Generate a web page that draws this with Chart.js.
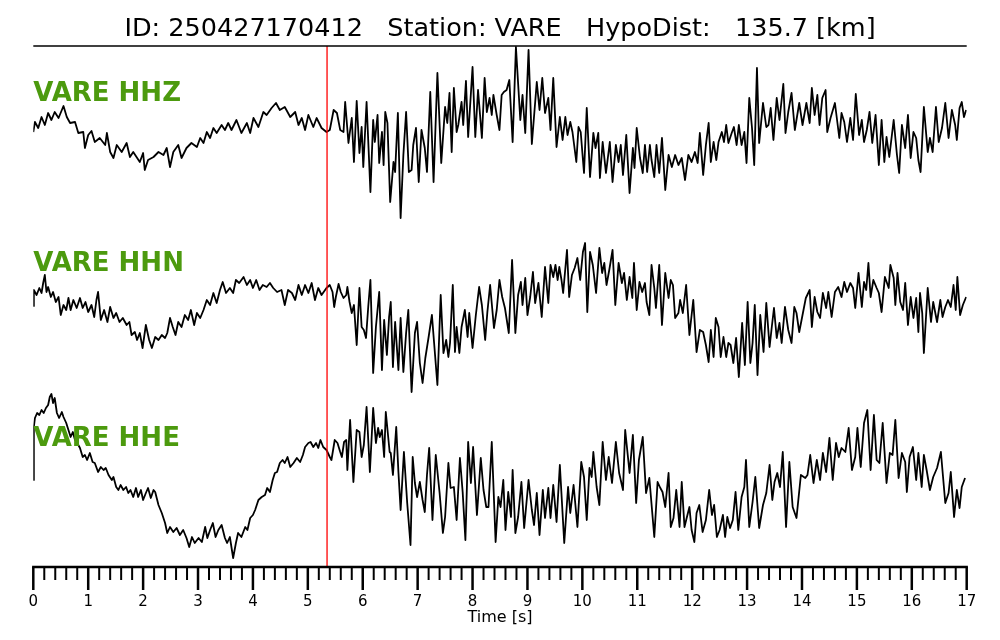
<!DOCTYPE html>
<html>
<head>
<meta charset="utf-8">
<script src="https://cdn.jsdelivr.net/npm/chart.js@4.4.1/dist/chart.umd.min.js"></script>
<style>
  html, body { margin: 0; padding: 0; background: #ffffff; }
  #wrap { width: 1000px; height: 640px; position: relative; }
</style>
</head>
<body>
<div id="wrap"><canvas id="seisChart"></canvas></div>
<script>
// event / station info
const eventId = '250427170412';
const stationName = 'VARE';
const hypoDist = 135.7;
const pickTime = 5.35; // red marker [s]

const channels = ['HHZ', 'HHN', 'HHE'];
const traceOffsets = [437, 267, 92];

// [time s, amplitude]
const hhz = [
  [0.00,-2],[0.03,8],[0.09,2],[0.15,13],[0.21,5],[0.27,17],[0.33,10],[0.39,18],[0.46,12],[0.55,24],[0.61,13],[0.67,7],[0.76,8],[0.82,-3],[0.91,-2],[0.94,-18],[1.00,-5],[1.06,-1],[1.12,-12],[1.21,-8],[1.31,-15],[1.34,-3],[1.40,-22],[1.46,-28],[1.52,-15],[1.61,-22],[1.70,-13],[1.76,-27],[1.82,-22],[1.94,-32],[2.00,-23],[2.03,-40],[2.09,-30],[2.19,-27],[2.28,-22],[2.37,-25],[2.43,-18],[2.49,-37],[2.55,-22],[2.64,-15],[2.70,-28],[2.79,-18],[2.88,-13],[2.98,-17],[3.04,-8],[3.10,-13],[3.16,-2],[3.22,-8],[3.28,2],[3.34,-3],[3.43,5],[3.49,0],[3.55,7],[3.61,0],[3.70,10],[3.79,-3],[3.89,7],[3.95,-3],[4.01,12],[4.10,3],[4.19,18],[4.25,15],[4.34,22],[4.42,27],[4.49,20],[4.58,23],[4.68,13],[4.77,18],[4.83,5],[4.89,12],[4.95,0],[5.01,15],[5.10,3],[5.16,12],[5.25,2],[5.34,-2],
  [5.40,0],[5.47,20],[5.53,17],[5.59,0],[5.65,-2],[5.68,28],[5.74,-13],[5.80,12],[5.84,-32],[5.89,29],[5.94,-23],[5.98,3],[6.01,-37],[6.07,28],[6.14,-62],[6.19,10],[6.22,-12],[6.27,15],[6.30,-33],[6.35,-2],[6.38,-35],[6.41,18],[6.45,7],[6.50,-72],[6.56,-32],[6.59,-42],[6.64,17],[6.69,-88],[6.74,-25],[6.79,18],[6.84,-42],[6.89,-40],[6.92,-15],[6.97,2],[7.02,-52],[7.07,0],[7.13,-18],[7.17,-42],[7.23,38],[7.29,-52],[7.36,57],[7.43,-33],[7.50,23],[7.54,7],[7.58,37],[7.62,-22],[7.66,42],[7.71,-2],[7.74,5],[7.80,28],[7.83,5],[7.88,49],[7.92,-7],[8.00,63],[8.05,-7],[8.10,40],[8.17,-8],[8.22,52],[8.26,18],[8.31,32],[8.35,15],[8.38,35],[8.44,15],[8.49,0],[8.53,35],[8.57,38],[8.62,40],[8.67,50],[8.73,-12],[8.79,83],[8.87,10],[8.91,35],[8.96,-3],[9.02,80],[9.08,-14],[9.17,48],[9.22,20],[9.27,52],[9.32,17],[9.38,32],[9.42,0],[9.47,52],[9.53,-17],[9.59,13],[9.64,-10],[9.69,13],[9.73,-5],[9.78,8],[9.82,-2],[9.89,-32],[9.93,3],[9.97,-2],[10.03,-43],[10.08,22],[10.14,-47],[10.20,-3],[10.24,-18],[10.29,-3],[10.32,-48],[10.37,-12],[10.43,-43],[10.50,-12],[10.55,-52],[10.61,-15],[10.66,-32],[10.70,-15],[10.74,-45],[10.80,-5],[10.86,-63],[10.92,-18],[10.95,-38],[10.99,2],[11.05,-28],[11.10,-43],[11.14,-15],[11.18,-42],[11.23,-15],
  [11.26,-30],[11.31,-47],[11.35,-15],[11.40,-43],[11.45,-8],[11.51,-60],[11.57,-25],[11.63,-37],[11.69,-25],[11.75,-35],[11.81,-28],[11.87,-50],[11.93,-25],[11.99,-32],[12.05,-22],[12.10,-33],[12.14,-3],[12.20,-45],[12.25,-15],[12.30,7],[12.34,-32],[12.39,-12],[12.44,-30],[12.48,-12],[12.54,-2],[12.58,-12],[12.62,5],[12.66,-13],[12.72,-3],[12.76,3],[12.81,-15],[12.85,5],[12.90,-15],[12.95,-2],[12.99,-33],[13.04,32],[13.09,2],[13.13,-35],[13.18,62],[13.22,-13],[13.29,27],[13.35,3],[13.39,5],[13.43,22],[13.48,-10],[13.54,32],[13.59,10],[13.66,46],[13.70,-3],[13.75,18],[13.81,37],[13.87,0],[13.95,27],[14.01,5],[14.08,27],[14.14,7],[14.18,42],[14.23,15],[14.28,35],[14.32,5],[14.37,32],[14.43,40],[14.46,-2],[14.52,12],[14.60,27],[14.68,-8],[14.72,17],[14.77,8],[14.82,-12],[14.88,12],[14.93,-10],[14.98,36],[15.04,-5],[15.09,10],[15.13,-12],[15.18,0],[15.23,18],[15.28,-13],[15.34,15],[15.40,-35],[15.45,10],[15.50,-32],[15.54,-7],[15.59,-27],[15.67,10],[15.73,-25],[15.77,-43],[15.82,5],[15.88,-18],[15.93,15],[15.98,-28],[16.03,-2],[16.08,-8],[16.12,-30],[16.16,-42],[16.22,23],[16.29,-22],[16.33,-8],[16.38,-22],[16.44,23],[16.49,-12],[16.55,2],[16.61,27],[16.67,-8],[16.73,20],[16.79,5],[16.82,-10],[16.87,22],[16.91,28],[16.95,13],[16.99,20]
];

const hhn = [
  [0.00,-6],[0.01,10],[0.06,5],[0.11,12],[0.15,7],[0.18,17],[0.21,25],[0.24,8],[0.27,13],[0.32,3],[0.36,8],[0.41,-2],[0.46,3],[0.50,-15],[0.55,-5],[0.60,-10],[0.64,2],[0.68,-10],[0.73,0],[0.79,-8],[0.85,2],[0.90,-8],[0.95,-2],[1.00,-12],[1.06,-5],[1.11,-17],[1.15,0],[1.18,8],[1.23,-20],[1.29,-10],[1.35,-22],[1.40,-7],[1.46,-18],[1.51,-13],[1.57,-22],[1.63,-18],[1.70,-25],[1.75,-22],[1.79,-35],[1.85,-32],[1.89,-40],[1.94,-33],[1.99,-48],[2.05,-25],[2.11,-40],[2.16,-48],[2.22,-37],[2.28,-40],[2.34,-35],[2.40,-38],[2.44,-33],[2.49,-18],[2.54,-27],[2.59,-35],[2.64,-22],[2.70,-27],[2.76,-15],[2.82,-20],[2.87,-10],[2.93,-25],[2.98,-13],[3.04,-18],[3.10,-10],[3.16,0],[3.22,-5],[3.28,7],[3.34,-3],[3.40,10],[3.45,18],[3.51,7],[3.58,12],[3.64,7],[3.69,20],[3.75,17],[3.83,23],[3.89,15],[3.95,20],[4.00,12],[4.06,20],[4.12,10],[4.18,15],[4.25,13],[4.31,17],[4.37,12],[4.44,8],[4.52,10],[4.58,-5],[4.64,10],[4.71,7],[4.77,0],[4.83,15],[4.89,5],[4.95,15],[5.01,7],[5.07,17],[5.13,0],[5.19,12],[5.25,5],[5.34,12],
  [5.40,15],[5.45,8],[5.48,-7],[5.51,3],[5.56,16],[5.60,8],[5.65,2],[5.70,5],[5.72,13],[5.76,-2],[5.80,-13],[5.84,-5],[5.89,-45],[5.94,12],[5.98,-27],[6.02,-30],[6.06,-38],[6.10,-7],[6.14,20],[6.19,-73],[6.24,-27],[6.30,8],[6.35,-70],[6.39,-20],[6.44,-55],[6.48,-17],[6.51,-2],[6.55,-67],[6.59,-22],[6.65,-70],[6.69,-18],[6.74,-72],[6.79,-33],[6.83,-10],[6.89,-92],[6.95,-33],[6.99,-22],[7.04,-63],[7.09,-83],[7.14,-58],[7.20,-37],[7.26,-15],[7.30,-43],[7.36,-85],[7.42,5],[7.47,-53],[7.52,-40],[7.56,-57],[7.59,-43],[7.64,15],[7.68,-52],[7.71,-27],[7.76,-53],[7.80,-27],[7.86,-10],[7.91,-37],[7.94,-13],[8.00,-48],[8.06,-15],[8.12,13],[8.17,-5],[8.23,-40],[8.27,-12],[8.32,15],[8.39,-28],[8.44,-10],[8.49,20],[8.54,3],[8.59,-8],[8.66,-33],[8.72,40],[8.78,-33],[8.83,5],[8.88,18],[8.91,-5],[8.96,22],[9.00,-15],[9.05,3],[9.10,28],[9.14,-3],[9.20,17],[9.26,-17],[9.32,33],[9.38,-3],[9.42,35],[9.47,23],[9.51,35],[9.55,20],[9.58,33],[9.62,20],[9.65,7],[9.72,50],[9.76,3],[9.81,25],[9.86,32],[9.91,42],[9.96,20],[10.01,48],[10.05,57],[10.09,-12],[10.14,48],[10.19,35],[10.25,7],[10.31,52],[10.36,27],[10.40,37],[10.44,15],[10.49,30],[10.55,50],[10.60,-5],[10.66,37],[10.72,17],[10.76,27],[10.81,0],[10.86,23],[10.91,2],[10.94,37],[10.99,-10],[11.04,18],[11.09,8],[11.14,17],[11.17,-2],[11.22,-15],
  [11.26,35],[11.31,12],[11.34,-8],[11.40,35],[11.45,-25],[11.51,27],[11.57,2],[11.61,20],[11.65,15],[11.69,-18],[11.75,-13],[11.78,0],[11.83,-13],[11.89,15],[11.95,-35],[12.02,0],[12.08,-52],[12.14,-30],[12.20,-32],[12.25,-45],[12.30,-62],[12.34,-30],[12.39,-57],[12.43,-18],[12.48,-27],[12.52,-57],[12.57,-37],[12.62,-57],[12.66,-43],[12.70,-45],[12.75,-63],[12.80,-38],[12.85,-77],[12.91,-23],[12.96,-65],[13.01,-2],[13.06,-63],[13.10,-43],[13.14,-5],[13.19,-75],[13.24,-15],[13.30,-52],[13.35,-3],[13.41,-47],[13.45,-27],[13.49,-8],[13.54,-38],[13.59,-23],[13.63,-43],[13.69,-7],[13.75,-30],[13.81,-43],[13.86,-7],[13.90,-13],[13.95,-32],[14.01,-15],[14.07,2],[14.14,10],[14.18,-27],[14.23,3],[14.28,-12],[14.33,-18],[14.38,7],[14.44,-8],[14.48,8],[14.54,-17],[14.60,8],[14.66,13],[14.72,3],[14.77,18],[14.82,8],[14.88,17],[14.93,12],[14.97,-8],[15.03,27],[15.09,-7],[15.13,18],[15.17,10],[15.21,37],[15.25,3],[15.30,20],[15.36,12],[15.40,7],[15.45,-12],[15.51,23],[15.58,12],[15.61,35],[15.67,22],[15.70,-5],[15.74,27],[15.79,-2],[15.84,-10],[15.88,17],[15.93,-25],[15.98,3],[16.03,-18],[16.08,2],[16.12,-32],[16.15,7],[16.19,-13],[16.22,-53],[16.29,12],[16.35,-22],[16.39,-2],[16.46,-22],[16.52,0],[16.56,-17],[16.61,-7],[16.66,0],[16.71,-7],[16.76,15],[16.80,-10],[16.83,23],[16.88,-15],[16.93,-5],[16.99,3]
];

const hhe = [
  [0.00,-5],[0.01,48],[0.03,57],[0.07,62],[0.11,60],[0.15,65],[0.19,62],[0.23,67],[0.27,70],[0.30,78],[0.33,81],[0.36,72],[0.39,77],[0.43,62],[0.47,57],[0.52,63],[0.55,58],[0.60,52],[0.64,45],[0.68,38],[0.72,43],[0.76,35],[0.80,32],[0.85,27],[0.90,18],[0.94,20],[0.98,15],[1.03,22],[1.08,13],[1.12,12],[1.18,3],[1.23,8],[1.28,5],[1.32,7],[1.37,0],[1.43,-5],[1.46,-2],[1.51,-12],[1.55,-15],[1.59,-10],[1.64,-15],[1.69,-12],[1.73,-18],[1.77,-15],[1.82,-22],[1.87,-13],[1.91,-22],[1.96,-15],[2.00,-25],[2.05,-18],[2.09,-13],[2.14,-23],[2.19,-15],[2.22,-17],[2.28,-30],[2.34,-38],[2.40,-48],[2.44,-58],[2.49,-52],[2.55,-57],[2.61,-53],[2.67,-60],[2.73,-55],[2.79,-63],[2.84,-72],[2.89,-62],[2.94,-68],[3.01,-63],[3.07,-67],[3.13,-52],[3.17,-63],[3.22,-55],[3.27,-48],[3.32,-62],[3.37,-55],[3.43,-50],[3.49,-63],[3.53,-68],[3.58,-62],[3.64,-83],[3.69,-68],[3.73,-58],[3.79,-62],[3.86,-52],[3.90,-55],[3.95,-43],[4.00,-40],[4.04,-35],[4.10,-25],[4.16,-22],[4.22,-20],[4.26,-13],[4.31,-17],[4.36,-5],[4.40,2],[4.44,3],[4.49,12],[4.54,15],[4.58,12],[4.63,18],[4.68,8],[4.74,12],[4.80,17],[4.86,13],[4.91,20],[4.95,28],[5.01,32],[5.05,33],[5.10,28],[5.15,32],[5.19,27],[5.23,35],[5.28,28],[5.34,25],
  [5.40,18],[5.43,15],[5.49,35],[5.54,32],[5.59,23],[5.62,18],[5.66,33],[5.70,35],[5.72,5],[5.77,55],[5.83,-7],[5.89,45],[5.94,43],[5.98,18],[6.02,30],[6.07,68],[6.13,3],[6.19,67],[6.24,32],[6.28,47],[6.31,38],[6.35,45],[6.39,18],[6.42,63],[6.49,23],[6.51,22],[6.55,0],[6.61,48],[6.65,3],[6.69,-35],[6.75,23],[6.81,-28],[6.87,-70],[6.91,18],[6.95,-8],[6.99,-22],[7.04,-7],[7.09,-25],[7.13,-37],[7.17,0],[7.21,27],[7.27,-45],[7.33,20],[7.40,-18],[7.46,-58],[7.50,-42],[7.56,12],[7.60,-13],[7.66,-12],[7.71,-45],[7.77,17],[7.82,-17],[7.87,-65],[7.92,33],[7.97,-8],[8.01,28],[8.08,-40],[8.12,-8],[8.15,17],[8.20,-15],[8.25,-32],[8.29,-32],[8.35,33],[8.42,-67],[8.47,-22],[8.51,-32],[8.56,-5],[8.60,-55],[8.65,-17],[8.70,-42],[8.73,5],[8.78,-58],[8.83,-42],[8.89,-7],[8.94,-53],[9.02,-5],[9.08,-35],[9.12,-50],[9.17,-18],[9.22,-60],[9.28,-15],[9.32,-43],[9.38,-13],[9.42,-43],[9.47,-10],[9.53,-47],[9.59,10],[9.67,-68],[9.74,-12],[9.78,-38],[9.84,-10],[9.91,-52],[9.98,13],[10.03,-2],[10.08,-45],[10.13,7],[10.17,-2],[10.20,23],[10.26,-12],[10.31,-30],[10.37,33],[10.43,-5],[10.48,18],[10.54,-8],[10.61,33],[10.67,2],[10.74,-15],[10.78,45],[10.86,2],[10.92,40],[10.98,-28],[11.03,15],[11.10,38],[11.16,-18],[11.22,-3],
  [11.31,-62],[11.37,-7],[11.42,-13],[11.46,-17],[11.51,-32],[11.57,2],[11.61,-52],[11.66,-43],[11.71,-15],[11.77,-52],[11.81,-7],[11.86,-52],[11.90,-43],[11.95,-32],[11.99,-55],[12.04,-67],[12.08,-38],[12.13,-30],[12.19,-57],[12.25,-45],[12.31,-15],[12.36,-40],[12.40,-30],[12.45,-62],[12.50,-55],[12.56,-40],[12.60,-62],[12.64,-42],[12.69,-53],[12.74,-45],[12.79,-17],[12.84,-55],[12.90,-22],[12.95,-12],[12.98,15],[13.04,-52],[13.10,-27],[13.15,-2],[13.22,-53],[13.29,-30],[13.35,-18],[13.41,10],[13.46,-25],[13.50,-7],[13.55,2],[13.60,-12],[13.65,23],[13.71,-52],[13.77,13],[13.83,-32],[13.90,-43],[13.98,0],[14.06,-3],[14.10,0],[14.15,20],[14.21,-8],[14.27,15],[14.33,-5],[14.38,22],[14.44,3],[14.50,37],[14.56,-5],[14.62,32],[14.67,18],[14.72,27],[14.79,23],[14.85,47],[14.91,5],[14.97,18],[15.01,47],[15.07,8],[15.13,52],[15.19,65],[15.25,5],[15.31,60],[15.36,15],[15.41,12],[15.47,52],[15.54,-8],[15.60,22],[15.65,20],[15.70,55],[15.76,-3],[15.82,22],[15.88,13],[15.91,-17],[15.96,18],[16.02,28],[16.08,-5],[16.12,22],[16.18,-12],[16.22,20],[16.27,5],[16.33,-15],[16.39,-2],[16.46,7],[16.53,23],[16.61,-28],[16.67,-18],[16.71,3],[16.77,-42],[16.82,-15],[16.87,-33],[16.91,-12],[16.97,-3]
];

const traces = [hhz, hhn, hhe];

const labelGreen = '#4c9a0e';
const labelLift = 29;

Chart.defaults.font.family = '"DejaVu Sans", sans-serif';
Chart.defaults.color = '#000000';

// axis spines, minor/major ticks, pick line, channel labels
const seisDecor = {
    id: 'seisDecor',
    afterDatasetsDraw(chart) {
        const ctx = chart.ctx;
        const area = chart.chartArea;
        const xs = chart.scales.x;
        const ys = chart.scales.y;

        ctx.save();
        // pick marker
        const px = xs.getPixelForValue(pickTime);
        ctx.strokeStyle = '#ff0000';
        ctx.lineWidth = 1.3;
        ctx.beginPath();
        ctx.moveTo(px, area.top);
        ctx.lineTo(px, area.bottom);
        ctx.stroke();

        // top spine
        ctx.strokeStyle = '#000000';
        ctx.lineWidth = 1.6;
        ctx.beginPath();
        ctx.moveTo(area.left, area.top);
        ctx.lineTo(area.right, area.top);
        ctx.stroke();

        // bottom axis + ticks
        ctx.lineWidth = 2.5;
        ctx.beginPath();
        ctx.moveTo(area.left - 1.2, area.bottom);
        ctx.lineTo(area.right + 1.2, area.bottom);
        ctx.stroke();
        for (let i = 0; i <= 85; i++) {
            const t = i / 5;
            const x = xs.getPixelForValue(t);
            const major = i % 5 === 0;
            ctx.lineWidth = major ? 2.5 : 2;
            ctx.beginPath();
            ctx.moveTo(x, area.bottom);
            ctx.lineTo(x, area.bottom + (major ? 23 : 13));
            ctx.stroke();
        }

        // channel labels
        ctx.fillStyle = labelGreen;
        ctx.font = 'bold 26px "DejaVu Sans"';
        ctx.textAlign = 'left';
        ctx.textBaseline = 'alphabetic';
        channels.forEach((ch, i) => {
            ctx.fillText(stationName + ' ' + ch, area.left, ys.getPixelForValue(traceOffsets[i] + labelLift));
        });
        ctx.restore();
    }
};

const ctx = document.getElementById('seisChart').getContext('2d');
new Chart(ctx, {
    type: 'line',
    data: {
        datasets: traces.map((tr, i) => ({
            label: channels[i],
            data: tr.map(p => ({ x: p[0], y: p[1] + traceOffsets[i] })),
            borderColor: '#000000',
            borderWidth: 1.8,
            borderJoinStyle: 'round',
            pointRadius: 0,
            tension: 0,
            fill: false
        }))
    },
    options: {
        responsive: true,
        maintainAspectRatio: false,
        animation: false,
        layout: { padding: { left: 33.3, right: 33.3, top: 0, bottom: 14 } },
        plugins: {
            legend: { display: false },
            tooltip: { enabled: false },
            title: {
                display: true,
                text: 'ID: ' + eventId + '   Station: ' + stationName + '   HypoDist:   ' + hypoDist.toFixed(1) + ' [km]',
                color: '#000000',
                font: { size: 25.5, weight: 'normal', lineHeight: 1.2 },
                padding: { top: 14, bottom: 1.4 }
            }
        },
        scales: {
            x: {
                type: 'linear',
                min: 0,
                max: 17,
                grid: { display: false, drawTicks: false },
                border: { display: false },
                afterFit(scale) {
                    scale.height = 59;
                    scale.paddingLeft = 0;
                    scale.paddingRight = 0;
                },
                ticks: {
                    stepSize: 1,
                    padding: 28,
                    maxRotation: 0,
                    color: '#000000',
                    font: { size: 15, lineHeight: 1 }
                },
                title: {
                    display: true,
                    text: 'Time [s]',
                    color: '#000000',
                    font: { size: 16, lineHeight: 1 },
                    padding: { top: 0, bottom: 0 }
                }
            },
            y: {
                display: false,
                min: 0,
                max: 521
            }
        }
    },
    plugins: [seisDecor]
});
</script>
</body>
</html>
